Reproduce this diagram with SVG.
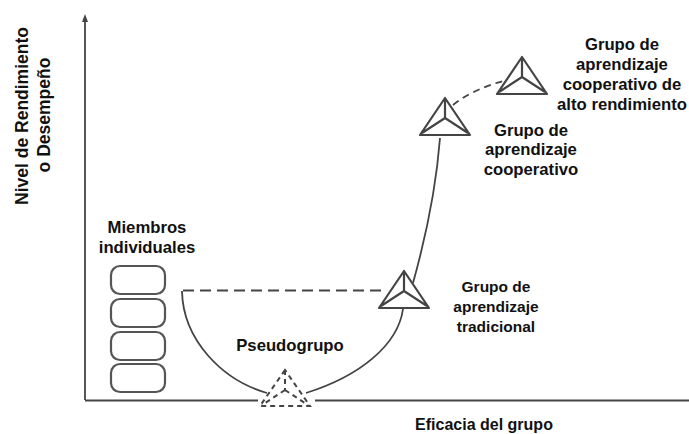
<svg xmlns="http://www.w3.org/2000/svg" width="689" height="434" viewBox="0 0 689 434">
<defs>
<marker id="ah" markerWidth="9" markerHeight="8" refX="1" refY="4" orient="auto" markerUnits="userSpaceOnUse"><path d="M0 1L8 4L0 7Z" fill="#444"/></marker>
<g id="tri"><path d="M0 -37L-25 0H25Z M0 -37V-17M0 -17L-23 -2M0 -17L23 -2" fill="none" stroke="#444" stroke-width="2.200" stroke-linejoin="round"/></g>
</defs>
<style>
text{font-family:"Liberation Sans",Arial,sans-serif;font-weight:700;font-size:16.700px;fill:#111;text-anchor:middle}
.c{fill:none;stroke:#444;stroke-width:1.800}
.d{stroke-dasharray:11 6}
.r{fill:#fff;stroke:#555;stroke-width:2.200}
.s{font-size:15.500px}
</style>
<rect width="689" height="434" fill="#fff"/>
<g id="connectors">
<path class="c" d="M85 400V21" marker-end="url(#ah)"/>
<path class="c" d="M85 400.500H258"/>
<path class="c" d="M315 400.500H689"/>
<path class="c" d="M182 291C183 340 222 380 267 393"/>
<path class="c" d="M306 393C360 376 398 345 403 309"/>
<path class="c" d="M413 283C425 240 436 190 440 138"/>
<path class="c d" d="M183 290.500H385"/>
<path class="c" d="M453 105C468 93 487 85 507 80" stroke-dasharray="7 5"/>
</g>
<g id="miembros"><text x="147" y="233">Miembros</text><text x="147" y="253">individuales</text>
<rect class="r" x="111" y="266" width="54" height="28" rx="9"/>
<rect class="r" x="111" y="299" width="54" height="28" rx="9"/>
<rect class="r" x="111" y="332" width="54" height="28" rx="9"/>
<rect class="r" x="111" y="364" width="54" height="28" rx="9"/>
</g>
<g id="pseudogrupo"><text x="290" y="351">Pseudogrupo</text>
<path d="M285 370L260 406H310Z M285 370V390M285 390L262 405M285 390L308 405" fill="none" stroke="#444" stroke-width="2" stroke-dasharray="5 4"/>
</g>
<g id="tradicional"><use href="#tri" x="404" y="308"/><text class="s" x="496" y="292">Grupo de</text><text class="s" x="496" y="312">aprendizaje</text><text class="s" x="496" y="332">tradicional</text></g>
<g id="cooperativo"><use href="#tri" x="445" y="135"/><text x="531" y="136">Grupo de</text><text x="531" y="155">aprendizaje</text><text x="531" y="175">cooperativo</text></g>
<g id="alto"><use href="#tri" x="522" y="94"/><text x="622" y="50">Grupo de</text><text x="622" y="70">aprendizaje</text><text x="622" y="90">cooperativo de</text><text x="622" y="110">alto rendimiento</text></g>
<g id="ejes"><text transform="translate(28 116) rotate(-90)" style="font-size:17.500px">Nivel de Rendimiento</text><text transform="translate(50 115) rotate(-90)" style="font-size:17.500px">o Desempeño</text><text x="484" y="430" style="font-size:16px">Eficacia del grupo</text></g>
</svg>
